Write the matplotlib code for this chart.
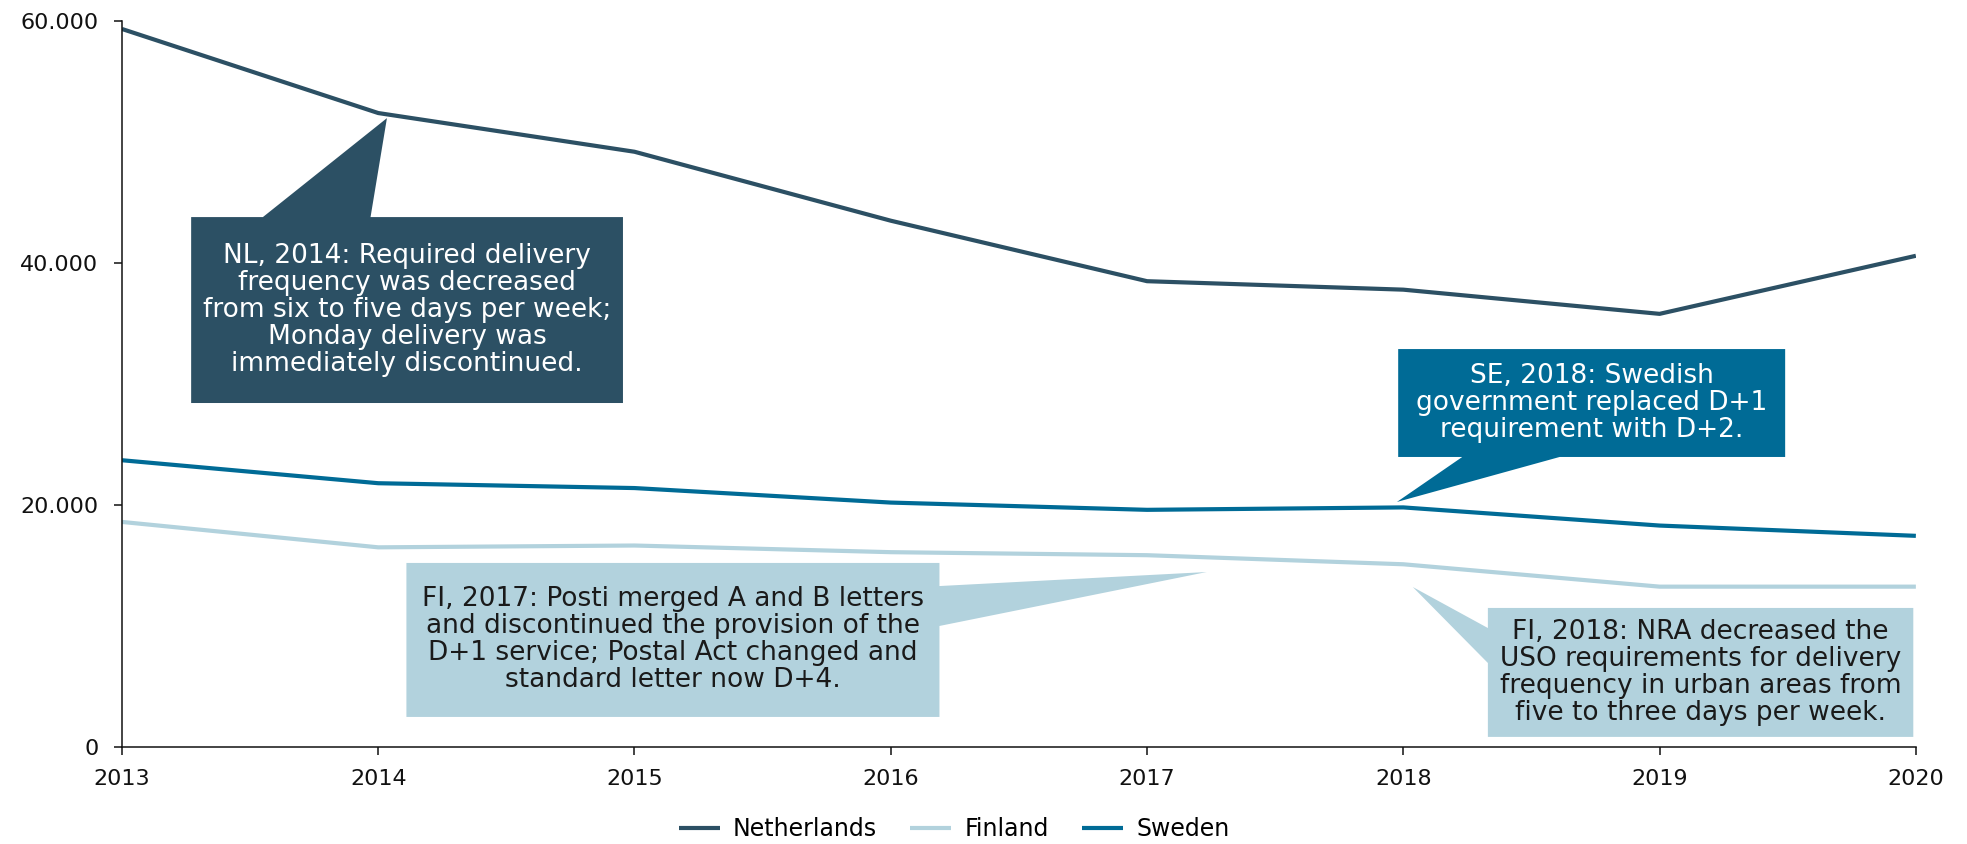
import matplotlib
matplotlib.use("Agg")
from matplotlib import pyplot as plt
from matplotlib.patches import Polygon
from matplotlib.ticker import FuncFormatter

# data
years = [2013, 2014, 2015, 2016, 2017, 2018, 2019, 2020]
netherlands = [59350, 52400, 49200, 43500, 38500, 37800, 35800, 40600]
finland = [18600, 16500, 16650, 16100, 15850, 15100, 13250, 13250]
sweden = [23700, 21800, 21400, 20200, 19600, 19800, 18300, 17450]
y_ticks = [0, 20000, 40000, 60000]

c_nl = "#2c5064"
c_fi = "#b2d2dd"
c_se = "#006b96"

plt.rcParams["font.family"] = ["DejaVu Sans"]

fig = plt.figure(figsize=(19.67, 8.44), dpi=100)
ax = fig.add_axes([0.062, 0.115, 0.912, 0.86])

ax.plot(years, netherlands, color=c_nl, lw=3, label="Netherlands", solid_capstyle="butt")
ax.plot(years, finland, color=c_fi, lw=3, label="Finland", solid_capstyle="butt")
ax.plot(years, sweden, color=c_se, lw=3, label="Sweden", solid_capstyle="butt")

ax.set_xlim(2013, 2020)
ax.set_ylim(0, 60000)
ax.set_xticks(years)
ax.set_yticks(y_ticks)
ax.yaxis.set_major_formatter(FuncFormatter(lambda v, p: f"{int(v):,}".replace(",", ".")))

for s in ["top", "right"]:
    ax.spines[s].set_visible(False)
for s in ["left", "bottom"]:
    ax.spines[s].set_linewidth(1.1)
    ax.spines[s].set_color("#111111")
ax.tick_params(axis="both", direction="out", length=6, width=1.1, color="#111111",
               labelsize=16, labelcolor="#111111")
ax.tick_params(axis="x", pad=10)
ax.tick_params(axis="y", pad=11)


def callout(x0, x1, y0, y1, side, base, tip, color, text, tcolor):
    # box with a wedge pointer, in data coordinates
    if side == "top":
        pts = [(x0, y1), (base[0], y1), tip, (base[1], y1), (x1, y1), (x1, y0), (x0, y0)]
    elif side == "bottom":
        pts = [(x0, y1), (x1, y1), (x1, y0), (base[1], y0), tip, (base[0], y0), (x0, y0)]
    elif side == "right":
        pts = [(x0, y1), (x1, y1), (x1, base[0]), tip, (x1, base[1]), (x1, y0), (x0, y0)]
    else:
        pts = [(x0, y1), (x1, y1), (x1, y0), (x0, y0), (x0, base[1]), tip, (x0, base[0])]
    ax.add_patch(Polygon(pts, closed=True, facecolor=color, edgecolor="none",
                         zorder=4, clip_on=False))
    ax.text((x0 + x1) / 2, (y0 + y1) / 2, text, ha="center", va="center",
            color=tcolor, fontsize=19, linespacing=1.05, zorder=5)


callout(2013.27, 2014.955, 28430, 43800, "top", (2013.55, 2013.97), (2014.034, 51980), c_nl,
        "NL, 2014: Required delivery\nfrequency was decreased\nfrom six to five days per week;\n"
        "Monday delivery was\nimmediately discontinued.", "white")
callout(2017.98, 2019.49, 23970, 32890, "bottom", (2018.23, 2018.61), (2017.975, 20250), c_se,
        "SE, 2018: Swedish\ngovernment replaced D+1\nrequirement with D+2.", "white")
callout(2014.11, 2016.19, 2480, 15210, "right", (13300, 10000), (2017.233, 14460), c_fi,
        "FI, 2017: Posti merged A and B letters\nand discontinued the provision of the\n"
        "D+1 service; Postal Act changed and\nstandard letter now D+4.", "#1a1a1a")
callout(2018.33, 2019.99, 830, 11490, "left", (9830, 6940), (2018.037, 13220), c_fi,
        "FI, 2018: NRA decreased the\nUSO requirements for delivery\nfrequency in urban areas from\n"
        "five to three days per week.", "#1a1a1a")

fig.legend(loc="center", bbox_to_anchor=(0.485, 0.018), ncol=3, frameon=False,
           fontsize=17, handlelength=1.75, handletextpad=0.55, columnspacing=1.4)

fig.savefig("out.png", dpi=100)
